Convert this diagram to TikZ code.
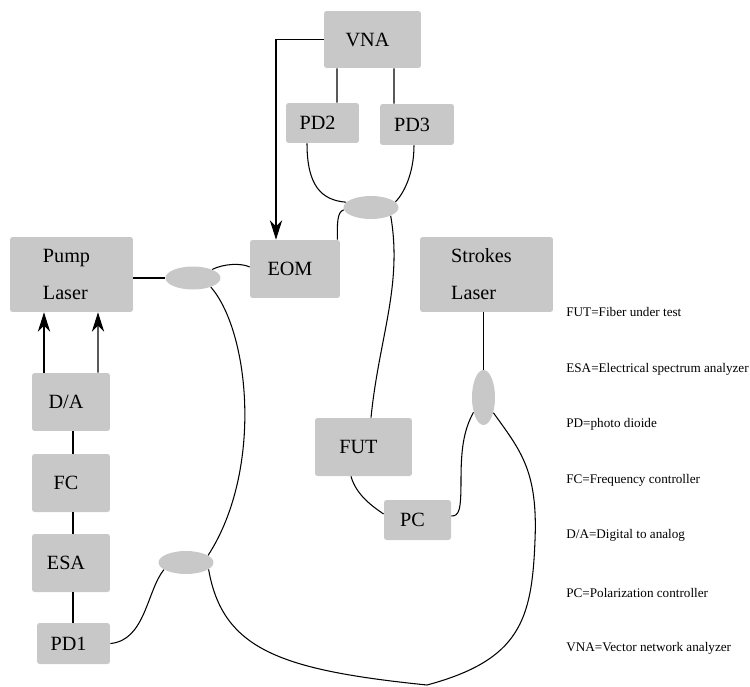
\documentclass[tikz,border=0pt]{standalone}
\usepackage{fontspec}
\setmainfont{Liberation Serif}
\usepackage{tikz}
\usetikzlibrary{arrows.meta,shapes.geometric,calc}
\definecolor{devgray}{HTML}{C8C8C8}

\tikzset{
  devbox/.style={fill=devgray,rounded corners=1.5pt,inner sep=0pt,
    font=\fontsize{11.5}{21}\selectfont,execute at end node={\hspace{0.2cm}}},
  coupler/.style={ellipse,fill=devgray,inner sep=0pt,minimum width=1.1cm,minimum height=0.46cm},
  fiber/.style={line width=0.6pt},
  sigarrow/.style={fiber,-{Stealth[length=11pt,width=7pt,inset=3.5pt]}},
  legend/.style={anchor=base west,inner sep=0pt,font=\fontsize{7.5}{9}\selectfont}
}

\begin{document}
\begin{tikzpicture}[x=0.02cm,y=-0.02cm]
  \useasboundingbox (0,0) rectangle (750,686);
  \node[devbox,minimum width=1.94cm,minimum height=1.14cm] (vna) at (372.5,39.5) {VNA};
  \node[devbox,minimum width=1.46cm,minimum height=0.8cm] (pdtwo) at (322.5,123) {PD2};
  \node[devbox,minimum width=1.48cm,minimum height=0.82cm] (pdthree) at (417,124.5) {PD3};
  \node[devbox,minimum width=1.8cm,minimum height=1.16cm] (eom) at (295,269) {EOM};
  \node[devbox,align=left,minimum width=2.46cm,minimum height=1.5cm] (pump) at (71.5,274.5) {Pump\\Laser};
  \node[devbox,align=left,minimum width=2.66cm,minimum height=1.5cm] (strokes) at (486.5,274.5) {Strokes\\Laser};
  \node[devbox,minimum width=1.56cm,minimum height=1.16cm] (da) at (71,402) {D/A};
  \node[devbox,minimum width=1.56cm,minimum height=1.16cm] (fc) at (71,483) {FC};
  \node[devbox,minimum width=1.56cm,minimum height=1.16cm] (esa) at (71,563) {ESA};
  \node[devbox,minimum width=1.46cm,minimum height=0.82cm] (pdone) at (73.5,643.5) {PD1};
  \node[devbox,minimum width=1.94cm,minimum height=1.16cm] (fut) at (363.5,447) {FUT};
  \node[devbox,minimum width=1.34cm,minimum height=0.8cm] (pc) at (417.5,520) {PC};

  \node[coupler] (cvna) at (371,207.5) {};
  \node[coupler] (cpump) at (193,278) {};
  \node[coupler] (cesa) at (186,562.5) {};
  \node[coupler,minimum width=0.46cm,minimum height=1.1cm] (cstrokes) at (483.5,397.5) {};

  \draw[sigarrow] (vna.west) -| ($(eom.north)+(-19,0)$);
  \draw[fiber] ($(pdtwo.north)+(14.5,0)$) -- ($(vna.south)+(-35.5,0)$);
  \draw[fiber] ($(pdthree.north)+(-23,0)$) -- ($(vna.south)+(21.5,0)$);
  \draw[fiber] ($(pdtwo.south)+(-15.5,0)$) .. controls +(0,42) and +(-25,-2) .. (cvna.168);
  \draw[fiber] ($(pdthree.south)+(-3,0)$) .. controls +(0,30) and +(7,-7) .. (cvna.13);
  \draw[fiber] (cvna.185) .. controls +(-7,2) and +(0,-15) .. ($(eom.north east)+(-3,0)$);
  \draw[fiber] (cvna.-23) .. controls +(12,70) and +(8,-80) .. ($(fut.north)+(7.5,0)$);

  \draw[fiber] (cpump.west) -- (cpump.west -| pump.east);
  \draw[fiber] (cpump.24) .. controls +(12,-6) and +(-8,-4) .. ($(eom.west)+(0,-2)$);
  \draw[fiber] (cpump.-27) .. controls +(39,45) and +(55,-85) .. (cesa.18);
  \draw[fiber] (cesa.198) .. controls +(-17,21) and +(35,-3) .. (pdone.east);
  \draw[fiber] (cesa.-17) .. controls +(14,80) and +(-147,-15) .. (427,685)
    .. controls (520,660) and (532,620) .. (535,540)
    .. controls (538,470) and (520,450) .. (cstrokes.-57);

  \draw[fiber] (cstrokes.north) -- (cstrokes.north |- strokes.south);
  \draw[fiber] (cstrokes.236) .. controls +(-10,18) and +(0,-30) .. (461,480)
    .. controls +(0,30) and +(8,0) .. ($(pc.east)+(0,-4)$);
  \draw[fiber] ($(fut.south)+(-12.5,0)$) .. controls +(5,18) and +(-12,-8) .. ($(pc.west)+(0,-6)$);

  \draw[sigarrow] ($(da.north)+(-27,0)$) -- ($(pump.south)+(-27.5,0)$);
  \draw[sigarrow] ($(da.north)+(27,0)$) -- ($(pump.south)+(26.5,0)$);
  \draw[fiber] ($(da.south)+(2,0)$) -- ($(fc.north)+(2,0)$);
  \draw[fiber] ($(fc.south)+(2,0)$) -- ($(esa.north)+(2,0)$);
  \draw[fiber] ($(esa.south)+(2,0)$) -- ($(pdone.north)+(-0.5,0)$);

  \foreach \txt/\y [count=\i] in {{FUT=Fiber under test}/316,{ESA=Electrical spectrum analyzer}/372,
      {PD=photo dioide}/427,{FC=Frequency controller}/483,{D/A=Digital to analog}/538,
      {PC=Polarization controller}/597,{VNA=Vector network analyzer}/651}{
    \node[legend] (leg\i) at (566,\y) {\txt};
  }
\end{tikzpicture}
\end{document}
